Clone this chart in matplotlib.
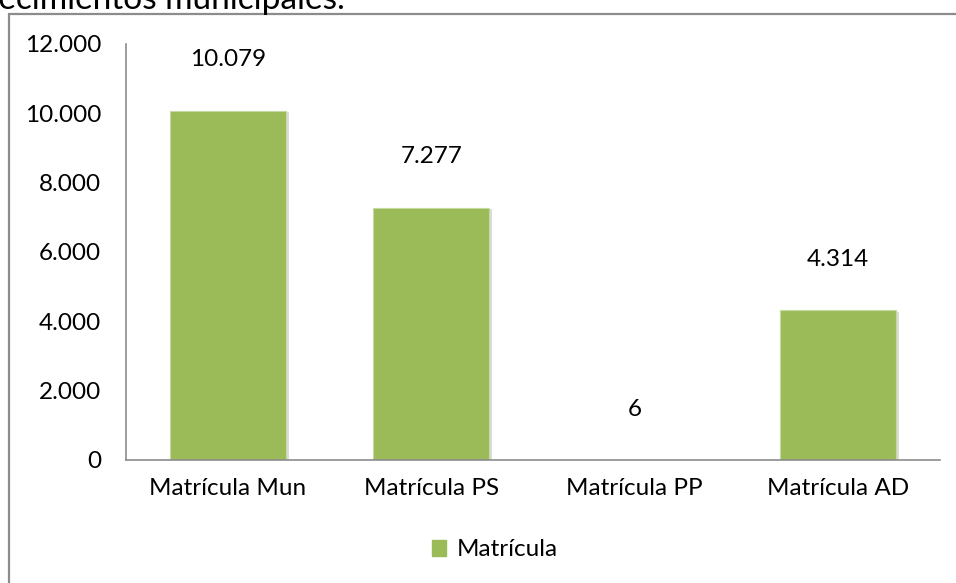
import matplotlib

matplotlib.use("Agg")

import matplotlib.pyplot as plt
import matplotlib.patheffects as pe
from matplotlib.patches import Rectangle

categories = ["Matrícula Mun", "Matrícula PS", "Matrícula PP", "Matrícula AD"]
values = [10079, 7277, 6, 4314]
value_labels = ["10.079", "7.277", "6", "4.314"]
y_ticks = [0, 2000, 4000, 6000, 8000, 10000, 12000]
y_tick_labels = ["0", "2.000", "4.000", "6.000", "8.000", "10.000", "12.000"]
series_name = "Matrícula"
title_fragment = "establecimientos municipales."

BAR_COLOR = "#9BBB59"
FONT = ["Lato", "DejaVu Sans"]
FS = 17.5

plt.rcParams["font.family"] = FONT

W, H = 956, 583
fig = plt.figure(figsize=(W / 100, H / 100), dpi=100)
fig.patch.set_facecolor("white")

# caption of the page, cut by the top edge as in the source
fig.text(345 / W, 1 - 9 / H, title_fragment, ha="right", va="baseline",
         fontsize=24, color="black")

# outer chart frame (runs off the right and bottom edges)
frame = Rectangle((9 / W, -0.05), 1.2, 1 - 14 / H + 0.05, transform=fig.transFigure,
                  fill=False, edgecolor="#8c8c8c", linewidth=1.6, clip_on=False)
fig.add_artist(frame)

ax = fig.add_axes([126 / W, 1 - 460 / H, (940 - 126) / W, (460 - 44) / H])
x = list(range(len(categories)))
bars = ax.bar(x, values, width=0.57, color=BAR_COLOR, edgecolor="#c5d9a0", linewidth=0.8)
for b in bars:
    b.set_path_effects([pe.SimplePatchShadow(offset=(2, -1), shadow_rgbFace="#999999", alpha=0.35),
                        pe.Normal()])

for xi, v, lab in zip(x, values, value_labels):
    ax.annotate(lab, (xi, v), xytext=(0, 29), textcoords="offset points",
                ha="center", va="bottom", fontsize=FS)

ax.set_xlim(-0.5, len(categories) - 0.5)
ax.set_ylim(0, 12000)
ax.set_yticks(y_ticks)
ax.set_yticklabels(y_tick_labels, fontsize=FS)
ax.set_xticks(x)
ax.set_xticklabels(categories, fontsize=FS)
ax.tick_params(axis="both", length=0)
ax.tick_params(axis="y", pad=18)
ax.tick_params(axis="x", pad=13)
for side in ["top", "right"]:
    ax.spines[side].set_visible(False)
for side in ["left", "bottom"]:
    ax.spines[side].set_color("#8c8c8c")
    ax.spines[side].set_linewidth(1.2)

handle = Rectangle((0, 0), 1, 1, color=BAR_COLOR)
fig.legend([handle], [series_name], loc="center", bbox_to_anchor=(495 / W, 1 - 550 / H),
           frameon=False, fontsize=FS, handlelength=0.6, handleheight=0.6, handletextpad=0.45)

fig.savefig("out.png", dpi=100)
